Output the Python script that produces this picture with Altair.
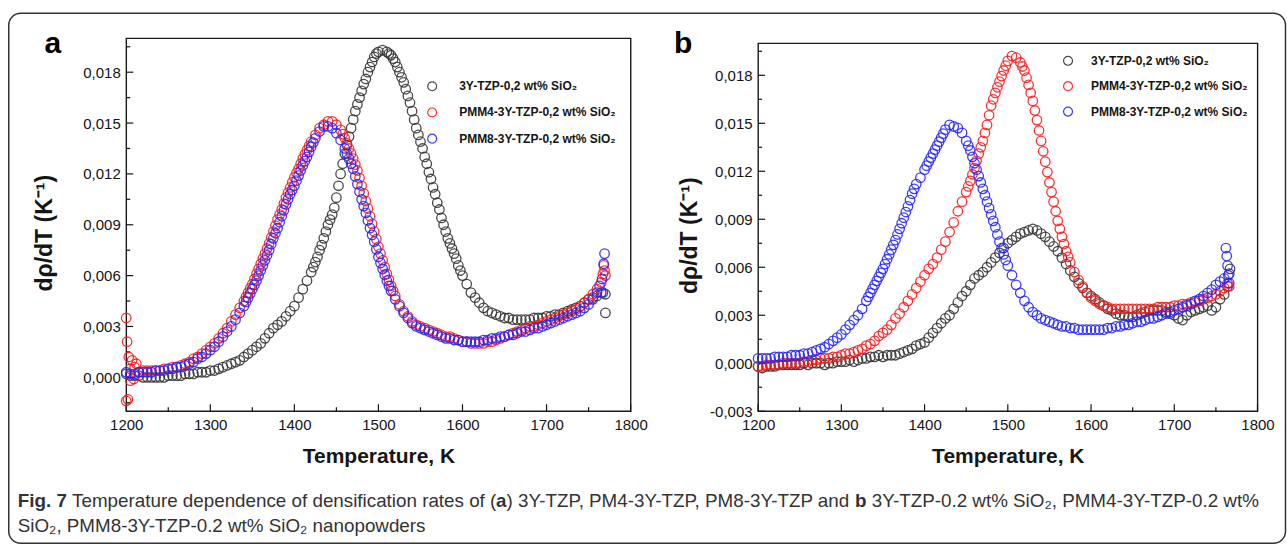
import altair as alt
import pandas as pd

# ---------------- data (in units of 1e-3 K^-1) ----------------
T_GRID = list(range(1200, 1765, 5))  # 1200 ... 1760 K, sampling positions

# panel a
A_BLACK = [0.2, 0.1, 0.1, 0.1, 0.0, 0.0, 0.0, 0.0, 0.0, 0.0,
           0.1, 0.1, 0.1, 0.1, 0.2, 0.2, 0.2, 0.3, 0.3, 0.3,
           0.4, 0.4, 0.5, 0.6, 0.7, 0.8, 0.9, 1.0, 1.2, 1.4,
           1.6, 1.8, 2.0, 2.3, 2.6, 2.9, 3.1, 3.3, 3.6, 3.9,
           4.2, 4.7, 5.2, 5.7, 6.2, 6.8, 7.5, 8.2, 9.0, 9.6,
           10.6, 12.0, 13.2, 14.2, 15.2, 16.1, 16.9, 17.6, 18.3, 18.9,
           19.2, 19.3, 19.2, 19.0, 18.6, 18.0, 17.4, 16.6, 15.7, 14.7,
           13.9, 13.0, 12.1, 11.2, 10.3, 9.4, 8.6, 7.9, 7.3, 6.6,
           6.0, 5.5, 5.0, 4.7, 4.4, 4.1, 3.9, 3.8, 3.7, 3.6,
           3.5, 3.5, 3.4, 3.4, 3.4, 3.4, 3.4, 3.5, 3.5, 3.5,
           3.6, 3.6, 3.7, 3.7, 3.8, 3.9, 4.0, 4.1, 4.2, 4.4,
           4.6, 4.7, 4.8]
A_BLACK_EXTRA_T = [1422.5, 1427.5, 1432.5, 1437.5, 1442.5, 1447.5, 1452.5, 1457.5, 1462.5, 1467.5,
                   1472.5, 1477.5, 1482.5, 1487.5, 1492.5, 1497.5, 1512.5, 1517.5, 1522.5, 1527.5,
                   1532.5, 1537.5, 1542.5, 1547.5, 1552.5, 1557.5, 1562.5, 1567.5, 1572.5, 1577.5,
                   1582.5, 1587.5, 1592.5, 1597.5, 1765, 1770, 1770]
A_BLACK_EXTRA_V = [6.5, 7.1, 7.8, 8.6, 9.3, 10.0, 11.3, 12.6, 13.7, 14.7,
                   15.7, 16.5, 17.3, 18.0, 18.6, 19.1, 19.1, 18.8, 18.3, 17.7,
                   17.0, 16.2, 15.2, 14.3, 13.5, 12.6, 11.7, 10.8, 9.9, 9.0,
                   8.2, 7.6, 7.0, 6.3, 5.0, 4.9, 3.8]

A_RED = [3.5, 0.5, 0.6, 0.3, 0.4, 0.4, 0.4, 0.4, 0.4, 0.5,
         0.5, 0.6, 0.6, 0.7, 0.8, 0.9, 1.1, 1.2, 1.4, 1.6,
         1.8, 2.0, 2.3, 2.6, 2.9, 3.3, 3.7, 4.1, 4.5, 5.0,
         5.5, 6.1, 6.7, 7.3, 7.9, 8.6, 9.3, 9.9, 10.6, 11.2,
         11.8, 12.3, 12.9, 13.4, 13.9, 14.3, 14.7, 14.9, 15.1, 15.1,
         14.9, 14.6, 14.1, 13.5, 12.9, 12.2, 11.3, 10.4, 9.5, 8.6,
         7.7, 6.9, 6.1, 5.4, 4.8, 4.3, 3.9, 3.6, 3.3, 3.1,
         3.0, 2.9, 2.8, 2.7, 2.6, 2.5, 2.4, 2.4, 2.3, 2.2,
         2.1, 2.1, 2.0, 2.0, 2.0, 2.0, 2.1, 2.1, 2.2, 2.3,
         2.4, 2.5, 2.6, 2.7, 2.8, 2.9, 3.0, 3.0, 3.1, 3.2,
         3.3, 3.4, 3.5, 3.6, 3.7, 3.8, 3.9, 4.0, 4.2, 4.4,
         4.6, 4.9, 5.2]
A_RED_EXTRA_T = [1200, 1201, 1202, 1203, 1205, 1207, 1209, 1212,
                 1342.5, 1347.5, 1352.5, 1357.5, 1362.5, 1367.5, 1372.5, 1377.5, 1382.5, 1387.5,
                 1392.5, 1397.5, 1402.5, 1407.5, 1412.5, 1417.5, 1457.5, 1462.5, 1467.5, 1472.5,
                 1477.5, 1482.5, 1487.5, 1492.5, 1497.5, 1502.5, 1507.5, 1512.5, 1517.5,
                 1765, 1767, 1768, 1769, 1770]
A_RED_EXTRA_V = [-1.4, 2.1, -1.3, 1.2, -0.2, 1.0, -0.1, 0.8,
                 4.75, 5.25, 5.8, 6.4, 7.0, 7.6, 8.25, 8.95, 9.6, 10.25,
                 10.9, 11.5, 12.05, 12.6, 13.15, 13.65, 14.35, 13.8, 13.2, 12.55,
                 11.75, 10.85, 9.95, 9.05, 8.15, 7.3, 6.5, 5.75, 5.1,
                 5.6, 6.1, 6.6, 6.3, 6.0]

A_BLUE = [0.3, 0.2, 0.2, 0.3, 0.3, 0.3, 0.3, 0.4, 0.4, 0.4,
          0.5, 0.5, 0.6, 0.6, 0.7, 0.8, 0.9, 1.1, 1.2, 1.4,
          1.6, 1.8, 2.1, 2.4, 2.7, 3.0, 3.4, 3.8, 4.2, 4.7,
          5.2, 5.7, 6.3, 6.9, 7.5, 8.2, 8.8, 9.5, 10.2, 10.8,
          11.3, 11.9, 12.5, 13.0, 13.6, 14.1, 14.5, 14.8, 14.8, 14.7,
          14.4, 14.0, 13.5, 12.9, 12.3, 11.4, 10.5, 9.7, 8.8, 8.0,
          7.1, 6.4, 5.7, 5.1, 4.6, 4.2, 3.8, 3.5, 3.2, 3.0,
          2.9, 2.8, 2.7, 2.6, 2.5, 2.4, 2.3, 2.3, 2.2, 2.2,
          2.1, 2.1, 2.1, 2.1, 2.1, 2.2, 2.2, 2.3, 2.3, 2.4,
          2.4, 2.5, 2.5, 2.6, 2.7, 2.7, 2.8, 2.9, 2.9, 3.0,
          3.1, 3.2, 3.3, 3.4, 3.5, 3.6, 3.7, 3.8, 3.9, 4.1,
          4.3, 4.6, 5.0]
A_BLUE_EXTRA_T = [1342.5, 1347.5, 1352.5, 1357.5, 1362.5, 1367.5, 1372.5, 1377.5, 1382.5, 1387.5,
                  1392.5, 1397.5, 1402.5, 1407.5, 1412.5, 1417.5, 1422.5, 1462.5, 1467.5, 1472.5,
                  1477.5, 1482.5, 1487.5, 1492.5, 1497.5, 1502.5, 1507.5, 1512.5,
                  1763, 1766, 1767, 1768, 1769]
A_BLUE_EXTRA_V = [4.45, 4.95, 5.45, 6.0, 6.6, 7.2, 7.85, 8.5, 9.15, 9.85,
                  10.5, 11.05, 11.6, 12.2, 12.75, 13.3, 13.85, 13.2, 12.6, 11.85,
                  10.95, 10.1, 9.25, 8.4, 7.55, 6.75, 6.05, 5.4,
                  5.4, 5.8, 5.0, 6.7, 7.3]

# panel b
B_BLACK = [-0.2, -0.3, -0.2, -0.2, -0.2, -0.1, -0.1, -0.1, -0.1, -0.1,
           -0.1, 0.0, -0.1, 0.0, 0.0, 0.0, -0.1, 0.0, 0.0, 0.1,
           0.1, 0.1, 0.2, 0.1, 0.2, 0.3, 0.3, 0.4, 0.4, 0.5,
           0.4, 0.5, 0.5, 0.5, 0.6, 0.7, 0.8, 0.9, 1.1, 1.2,
           1.3, 1.6, 1.9, 2.2, 2.5, 2.8, 3.0, 3.4, 3.8, 4.2,
           4.5, 4.9, 5.3, 5.5, 5.7, 6.0, 6.3, 6.6, 6.9, 7.2,
           7.5, 7.7, 7.9, 8.1, 8.2, 8.3, 8.4, 8.3, 8.1, 7.9,
           7.6, 7.3, 7.0, 6.6, 6.2, 5.8, 5.4, 5.0, 4.7, 4.4,
           4.2, 4.0, 3.8, 3.6, 3.4, 3.3, 3.1, 3.0, 3.0, 2.9,
           2.9, 3.0, 3.1, 3.2, 3.3, 3.3, 3.3, 3.3, 3.2, 3.1,
           3.0, 2.8, 2.7, 3.0, 3.2, 3.3, 3.4, 3.5, 3.6, 3.3,
           3.5, 4.0, 4.3]
B_BLACK_EXTRA_T = [1764, 1766, 1767]
B_BLACK_EXTRA_V = [4.8, 5.6, 5.9]

B_RED = [-0.2, -0.2, -0.1, -0.1, -0.1, -0.1, 0.0, 0.0, 0.0, 0.0,
         0.0, 0.1, 0.1, 0.2, 0.2, 0.3, 0.3, 0.3, 0.4, 0.4,
         0.5, 0.6, 0.6, 0.7, 0.8, 0.9, 1.1, 1.2, 1.4, 1.7,
         1.9, 2.1, 2.4, 2.8, 3.1, 3.5, 3.9, 4.3, 4.7, 5.1,
         5.5, 5.9, 6.2, 6.6, 7.1, 7.6, 8.2, 8.8, 9.5, 10.1,
         10.7, 11.4, 12.2, 13.1, 13.9, 14.9, 16.1, 16.9, 17.6, 18.3,
         18.9, 19.2, 19.1, 18.8, 18.3, 17.4, 16.4, 15.2, 13.9, 12.6,
         11.3, 10.1, 8.9, 7.9, 7.0, 6.3, 5.7, 5.2, 4.8, 4.4,
         4.1, 3.9, 3.7, 3.6, 3.5, 3.4, 3.4, 3.4, 3.4, 3.4,
         3.4, 3.4, 3.4, 3.4, 3.4, 3.4, 3.5, 3.5, 3.5, 3.5,
         3.6, 3.6, 3.7, 3.7, 3.8, 3.8, 3.9, 4.0, 4.1, 4.2,
         4.3, 4.5, 4.7]
B_RED_EXTRA_T = [1452.5, 1457.5, 1462.5, 1467.5, 1472.5, 1477.5, 1482.5, 1487.5, 1492.5, 1497.5,
                 1517.5, 1522.5, 1527.5, 1532.5, 1537.5, 1542.5, 1547.5, 1552.5, 1557.5, 1562.5,
                 1567.5, 1572.5, 1764, 1766]
B_RED_EXTRA_V = [11.05, 11.8, 12.65, 13.5, 14.4, 15.5, 16.5, 17.25, 17.95, 18.6,
                 18.55, 17.85, 16.9, 15.8, 14.55, 13.25, 11.95, 10.7, 9.5, 8.4,
                 7.45, 6.65, 5.0, 4.8]

B_BLUE = [0.3, 0.3, 0.3, 0.3, 0.4, 0.4, 0.4, 0.4, 0.5, 0.5,
          0.5, 0.6, 0.6, 0.7, 0.8, 0.9, 1.0, 1.2, 1.4, 1.6,
          1.8, 2.1, 2.4, 2.7, 3.0, 3.4, 3.9, 4.4, 4.9, 5.4,
          5.9, 6.5, 7.1, 7.7, 8.4, 9.1, 9.8, 10.6, 11.2, 11.6,
          12.1, 12.6, 13.1, 13.6, 14.1, 14.6, 14.9, 14.8, 14.7, 14.4,
          13.9, 13.3, 12.5, 11.7, 10.9, 10.1, 9.3, 8.5, 7.6, 6.8,
          6.1, 5.5, 4.9, 4.4, 3.9, 3.5, 3.2, 3.0, 2.8, 2.7,
          2.6, 2.5, 2.4, 2.3, 2.3, 2.2, 2.2, 2.1, 2.1, 2.1,
          2.1, 2.1, 2.1, 2.1, 2.2, 2.2, 2.3, 2.3, 2.4, 2.4,
          2.5, 2.6, 2.6, 2.7, 2.8, 2.8, 2.9, 3.0, 3.1, 3.2,
          3.3, 3.4, 3.5, 3.6, 3.7, 3.9, 4.0, 4.2, 4.4, 4.6,
          4.9, 5.1, 5.3]
B_BLUE_EXTRA_T = [1332.5, 1337.5, 1342.5, 1347.5, 1352.5, 1357.5, 1362.5, 1367.5, 1372.5, 1377.5,
                  1382.5, 1387.5, 1402.5, 1407.5, 1412.5, 1417.5, 1422.5, 1452.5, 1457.5, 1462.5,
                  1467.5, 1472.5, 1477.5, 1482.5, 1487.5, 1492.5, 1497.5,
                  1762, 1763, 1764, 1765, 1766]
B_BLUE_EXTRA_V = [4.15, 4.65, 5.15, 5.65, 6.2, 6.8, 7.4, 8.05, 8.75, 9.45,
                  10.2, 10.9, 12.35, 12.85, 13.35, 13.85, 14.35, 13.6, 12.9, 12.1,
                  11.3, 10.5, 9.7, 8.9, 8.05, 7.2, 6.45,
                  7.2, 6.7, 6.1, 5.5, 5.0]

LABELS = ["3Y-TZP-0,2 wt% SiO\u2082",
          "PMM4-3Y-TZP-0,2 wt% SiO\u2082",
          "PMM8-3Y-TZP-0,2 wt% SiO\u2082"]
COLORS = ["#363636", "#ff1a1a", "#2626ff"]

X_MAJOR = [1200, 1300, 1400, 1500, 1600, 1700, 1800]
X_MINOR = [1250, 1350, 1450, 1550, 1650, 1750]
YA_MAJOR = [0.0, 0.003, 0.006, 0.009, 0.012, 0.015, 0.018]
YB_MAJOR = [-0.003, 0.0, 0.003, 0.006, 0.009, 0.012, 0.015, 0.018]
Y_MINOR = [-0.0015, 0.0015, 0.0045, 0.0075, 0.0105, 0.0135, 0.0165, 0.0195]

# caption: (text, bold, width correction for layout)
CAPTION_LINE1 = [("Fig. 7", True, 1.0),
                 (" Temperature dependence of densification rates of (", False, 0.994),
                 ("a", True, 1.0),
                 (") 3Y-TZP, PM4-3Y-TZP, PM8-3Y-TZP and ", False, 0.972),
                 ("b", True, 1.0),
                 (" 3Y-TZP-0.2 wt% SiO\u2082, PMM4-3Y-TZP-0.2 wt%", False, 0.99)]
CAPTION_LINE2 = [("SiO\u2082, PMM8-3Y-TZP-0.2 wt% SiO\u2082 nanopowders", False, 0.99)]

FONT = "Liberation Sans"
INK = "#151515"

# approximate Arial / Liberation Sans advance widths (per 1000 em) for caption layout
REG_W = {" ": 278, "(": 333, ")": 333, ",": 278, "-": 333, ".": 278, "%": 889,
         "0": 556, "2": 556, "3": 556, "4": 556, "7": 556, "8": 556,
         "M": 833, "O": 778, "P": 667, "S": 667, "T": 611, "Y": 667, "Z": 611, "F": 611,
         "a": 556, "b": 556, "c": 500, "d": 556, "e": 556, "f": 278, "g": 556, "i": 222,
         "m": 833, "n": 556, "o": 556, "p": 556, "r": 333, "s": 500, "t": 278, "u": 556,
         "w": 722, "\u2082": 400}
BOLD_W = {" ": 278, "F": 611, "i": 278, "g": 611, ".": 278, "7": 556, "a": 556, "b": 611}


def text_units(s, bold):
    table = BOLD_W if bold else REG_W
    return sum(table.get(c, 556) for c in s)


def make_df(series):
    rows = []
    for k, (vals, tt, tv) in enumerate(series):
        for t, v in zip(T_GRID + tt, vals + tv):
            rows.append({"T": t, "v": v / 1000.0, "s": LABELS[k]})
    return pd.DataFrame(rows)


df_a = make_df([(A_BLACK, A_BLACK_EXTRA_T, A_BLACK_EXTRA_V),
                (A_RED, A_RED_EXTRA_T, A_RED_EXTRA_V),
                (A_BLUE, A_BLUE_EXTRA_T, A_BLUE_EXTRA_V)])
df_b = make_df([(B_BLACK, B_BLACK_EXTRA_T, B_BLACK_EXTRA_V),
                (B_RED, B_RED_EXTRA_T, B_RED_EXTRA_V),
                (B_BLUE, B_BLUE_EXTRA_T, B_BLUE_EXTRA_V)])

ONE = pd.DataFrame({"d": [0]})


def text_layer(txt, x, y, size, bold=False, align="left", color=INK):
    return alt.Chart(ONE).mark_text(
        align=align, baseline="alphabetic", font=FONT, fontSize=size,
        fontWeight="bold" if bold else "normal", color=color
    ).encode(x=alt.value(x), y=alt.value(y), text=alt.value(txt))


def build_panel(df, ydom, ymajor, w, h, legend_x, legend_y, label_offset, row_pad,
                legend_label_expr, title_x, title_y, extra_layers):
    xs = alt.Scale(domain=[1200, 1800], nice=False, zero=False)
    ys = alt.Scale(domain=ydom, nice=False, zero=False)
    x_axis = alt.Axis(values=X_MAJOR, format="d", ticks=False, domain=False, grid=False,
                      labelFont=FONT, labelFontSize=15, labelColor=INK, labelPadding=6,
                      labelFlush=False, labelOverlap=False,
                      title="Temperature, K", titleFont=FONT, titleFontSize=21,
                      titleFontWeight="bold", titleColor=INK, titleY=45,
                      titleBaseline="middle")
    y_axis = alt.Axis(values=ymajor, ticks=False, domain=False, grid=False,
                      labelExpr="replace(replace(format(datum.value, '.3f'), '.', ','), '\u2212', '-')",
                      labelFont=FONT, labelFontSize=15, labelColor=INK, labelPadding=6,
                      labelFlush=False, labelOverlap=False,
                      title="d\u03c1/dT (K\u207b\u00b9)", titleFont=FONT, titleFontSize=23,
                      titleFontWeight="bold", titleColor=INK, titleX=title_x, titleY=title_y,
                      titleAngle=270, titleAlign="center", titleBaseline="middle")
    legend = alt.Legend(title=None, orient="none", legendX=legend_x, legendY=legend_y,
                        direction="vertical", symbolType="circle", symbolSize=80,
                        symbolStrokeWidth=1.2, labelFont=FONT, labelFontSize=12,
                        labelFontWeight="bold", labelColor=INK, labelOffset=label_offset,
                        rowPadding=row_pad, padding=0, labelLimit=400,
                        labelExpr=legend_label_expr)
    points = alt.Chart(df).mark_point(filled=False, size=90, strokeWidth=1.3, opacity=0.9).encode(
        x=alt.X("T:Q", scale=xs, axis=x_axis),
        y=alt.Y("v:Q", scale=ys, axis=y_axis),
        color=alt.Color("s:N", scale=alt.Scale(domain=LABELS, range=COLORS), legend=legend),
    )

    def yticks(vals, length):
        return alt.Chart(pd.DataFrame({"v": vals})).mark_rule(color=INK, strokeWidth=1.2).encode(
            y=alt.Y("v:Q", scale=ys, axis=y_axis), x=alt.value(0), x2=alt.value(length))

    def xticks(vals, length):
        return alt.Chart(pd.DataFrame({"T": vals})).mark_rule(color=INK, strokeWidth=1.2).encode(
            x=alt.X("T:Q", scale=xs, axis=x_axis), y=alt.value(h), y2=alt.value(h - length))

    layers = list(extra_layers) + [yticks(ymajor, 7), yticks(Y_MINOR, 4),
                                   xticks(X_MAJOR, 7), xticks(X_MINOR, 4), points]
    return alt.layer(*layers).properties(width=w, height=h)


# ---------------- layout (pixel geometry of the figure) ----------------
A_LEFT, A_TOP, A_W, A_H = 125.5, 37.0, 504.5, 373.0
B_LEFT, B_TOP, B_W, B_H = 757.0, 42.0, 499.5, 368.0

# caption segments laid out left to right
cap_x0, cap_x1 = 17.0, 1275.0
units1 = sum(text_units(s, b) for s, b, _ in CAPTION_LINE1)
CAP_SIZE = (cap_x1 - cap_x0) / units1 * 1000.0
cap_layers = []
for line, base_y in ((CAPTION_LINE1, 506.0), (CAPTION_LINE2, 531.0)):
    cx = cap_x0
    for seg, bold, k in line:
        lead = len(seg) - len(seg.lstrip(" "))
        cx += text_units(seg[:lead], bold) * CAP_SIZE / 1000.0 * k
        body = seg.strip(" ")
        cap_layers.append(text_layer(body, cx - A_LEFT, base_y - A_TOP, CAP_SIZE, bold, color="#333333"))
        cx += text_units(seg[lead:], bold) * CAP_SIZE / 1000.0 * k

frame = alt.Chart(ONE).mark_rect(fill="transparent", stroke="#333333", strokeWidth=1.5,
                                 cornerRadius=12).encode(
    x=alt.value(8 - A_LEFT), x2=alt.value(1285 - A_LEFT),
    y=alt.value(12 - A_TOP), y2=alt.value(542 - A_TOP))

letter_a = text_layer("a", 52 - A_LEFT, 52 - A_TOP, 30, True, align="center", color="#000000")
letter_b = text_layer("b", 682 - B_LEFT, 52 - B_TOP, 30, True, align="center", color="#000000")

panel_a = build_panel(df_a, [-0.002, 0.020], YA_MAJOR, A_W, A_H,
                      legend_x=300, legend_y=42, label_offset=21, row_pad=12.2,
                      legend_label_expr="datum.label",
                      title_x=44 - A_LEFT, title_y=A_H / 2 + 8,
                      extra_layers=[frame] + cap_layers + [letter_a])

panel_b_core = build_panel(df_b, [-0.003, 0.020], YB_MAJOR, B_W, B_H,
                           legend_x=304, legend_y=16.5, label_offset=17, row_pad=11.4,
                           legend_label_expr="indexof(datum.label, 'PMM4') == 0 ? datum.label : '\u00a0\u00a0' + datum.label",
                           title_x=688 - B_LEFT, title_y=B_H / 2 + 8,
                           extra_layers=[letter_b])

spacer = alt.Chart(ONE).mark_point(opacity=0).encode(
    x=alt.value(0), y=alt.value(0)
).properties(width=B_W, height=B_TOP - A_TOP, view=alt.ViewBackground(stroke="transparent"))

panel_b = alt.vconcat(spacer, panel_b_core, spacing=0, bounds="flush")

chart = alt.hconcat(panel_a, panel_b, spacing=B_LEFT - (A_LEFT + A_W), bounds="flush").resolve_scale(
    color="independent"
).resolve_legend(color="independent").properties(
    padding={"left": 7.25, "top": 11.25, "right": 0, "bottom": 0},
    background="white",
).configure_view(stroke="#1a1a1a", strokeWidth=1.4)

chart.save("out.html", embed_options={"renderer": "svg", "actions": False})
